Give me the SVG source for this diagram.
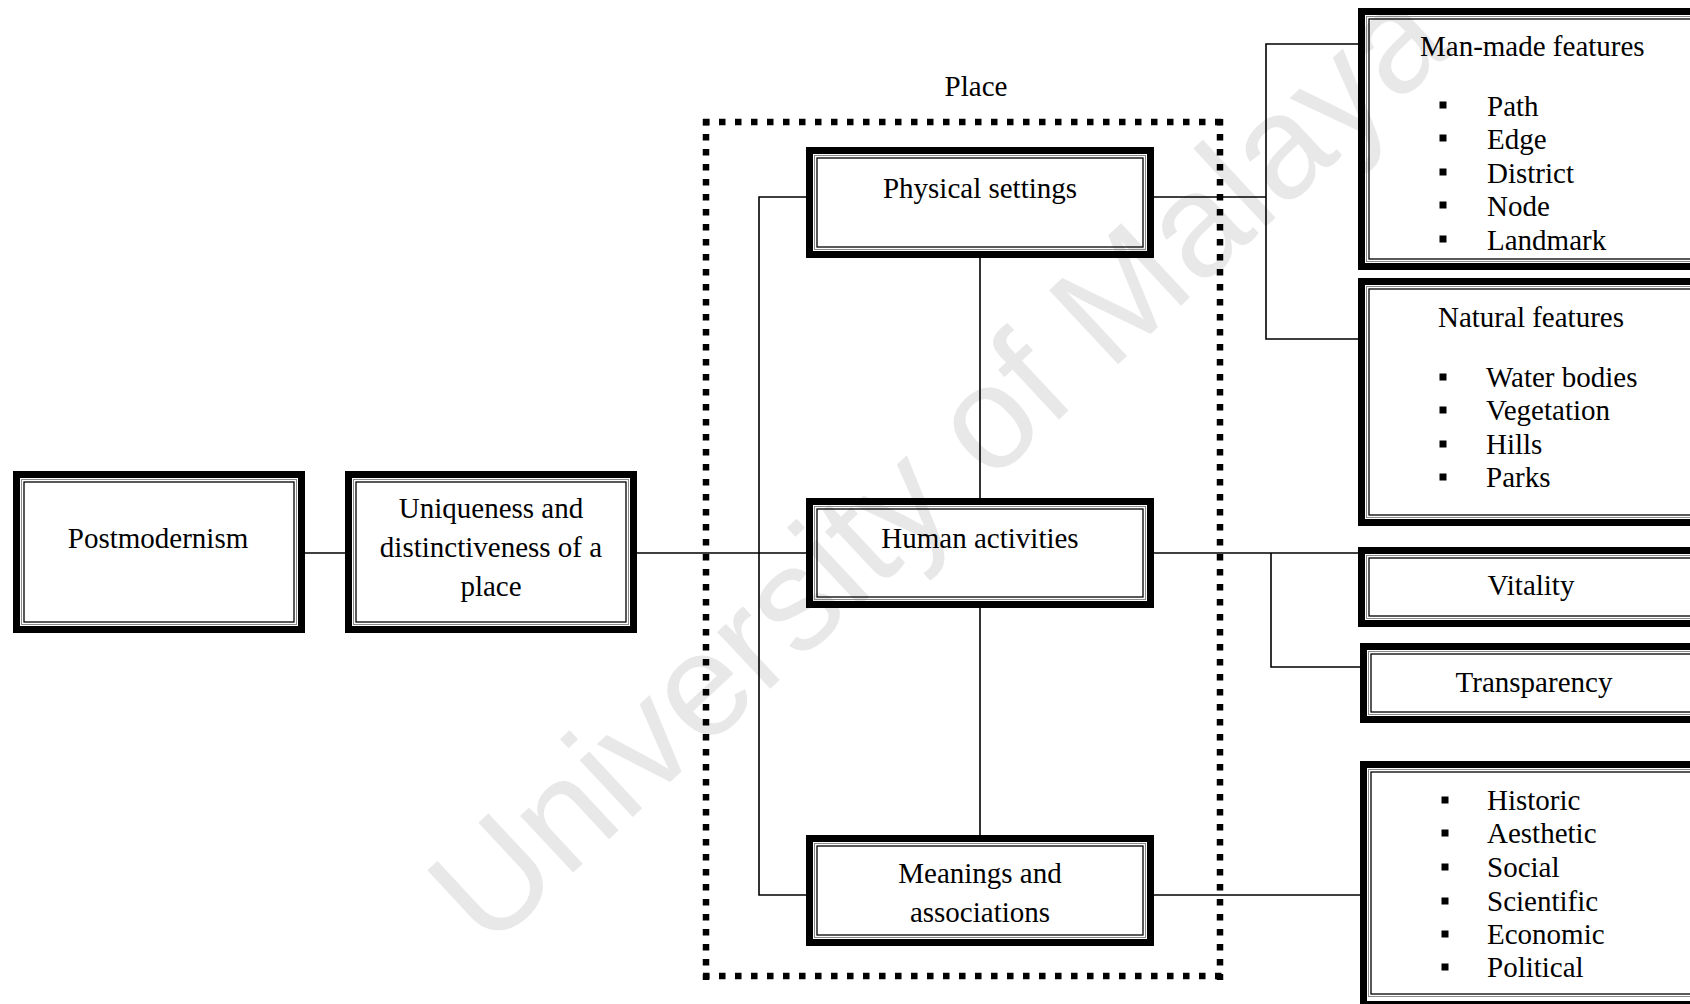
<svg xmlns="http://www.w3.org/2000/svg" width="1690" height="1004" viewBox="0 0 1690 1004">
<style>
  .wm { font-family: "Liberation Sans", Arial, sans-serif; font-size: 147px; fill: #e8e8e8; }
  .o { fill: none; stroke: #000; stroke-width: 7; }
  .m { fill: none; stroke: #8a8a8a; stroke-width: 1; }
  .i { fill: none; stroke: #000; stroke-width: 1.3; }
  .t { font-family: "Liberation Serif", "Times New Roman", serif; font-size: 29px; fill: #000; }
  .c { text-anchor: middle; }
  .ln { fill: none; stroke: #000; stroke-width: 1.6; }
  .dh { fill: none; stroke: #000; stroke-width: 6.5; stroke-dasharray: 6.5 9.5; }
  .dv { fill: none; stroke: #000; stroke-width: 6.5; stroke-dasharray: 6.5 8.5; }
  .b { fill: #000; }
</style>
<rect width="1690" height="1004" fill="#fff"/>
<text class="wm" x="488" y="952" transform="rotate(-43 488 952)">University of Malaya</text>

<g id="place-frame">
  <line class="dh" x1="703" y1="122" x2="1224" y2="122"/>
  <line class="dh" x1="703" y1="976" x2="1224" y2="976"/>
  <line class="dv" x1="706" y1="119" x2="706" y2="980"/>
  <line class="dv" x1="1220" y1="119" x2="1220" y2="980"/>
  <text class="t c" x="976" y="96">Place</text>
</g>

<g id="connectors">
  <line class="ln" x1="305" y1="553" x2="345" y2="553"/>
  <line class="ln" x1="637" y1="553" x2="806" y2="553"/>
  <polyline class="ln" points="806,197 759,197 759,895 806,895"/>
  <line class="ln" x1="980" y1="258" x2="980" y2="498"/>
  <line class="ln" x1="980" y1="608" x2="980" y2="835"/>
  <line class="ln" x1="1154" y1="197" x2="1266" y2="197"/>
  <polyline class="ln" points="1358,44 1266,44 1266,339 1358,339"/>
  <line class="ln" x1="1154" y1="553" x2="1358" y2="553"/>
  <polyline class="ln" points="1271,553 1271,667 1360,667"/>
  <line class="ln" x1="1154" y1="895" x2="1360" y2="895"/>
</g>

<g id="postmodernism">
  <rect class="o" x="16.5" y="474.5" width="285" height="155"/>
  <rect class="m" x="21.5" y="479.5" width="275" height="145"/>
  <rect class="i" x="24" y="482" width="270" height="140"/>
  <text class="t c" x="158" y="548">Postmodernism</text>
</g>

<g id="uniqueness">
  <rect class="o" x="348.5" y="474.5" width="285" height="155"/>
  <rect class="m" x="353.5" y="479.5" width="275" height="145"/>
  <rect class="i" x="356" y="482" width="270" height="140"/>
  <text class="t c" x="491" y="518">Uniqueness and</text>
  <text class="t c" x="491" y="557">distinctiveness of a</text>
  <text class="t c" x="491" y="596">place</text>
</g>

<g id="physical-settings">
  <rect class="o" x="809.5" y="150.5" width="341" height="104"/>
  <rect class="m" x="814.5" y="155.5" width="331" height="94"/>
  <rect class="i" x="817" y="158" width="326" height="89"/>
  <text class="t c" x="980" y="198">Physical settings</text>
</g>

<g id="human-activities">
  <rect class="o" x="809.5" y="501.5" width="341" height="103"/>
  <rect class="m" x="814.5" y="506.5" width="331" height="93"/>
  <rect class="i" x="817" y="509" width="326" height="88"/>
  <text class="t c" x="980" y="548">Human activities</text>
</g>

<g id="meanings">
  <rect class="o" x="809.5" y="838.5" width="341" height="104"/>
  <rect class="m" x="814.5" y="843.5" width="331" height="94"/>
  <rect class="i" x="817" y="846" width="326" height="89"/>
  <text class="t c" x="980" y="883">Meanings and</text>
  <text class="t c" x="980" y="922">associations</text>
</g>

<g id="man-made">
  <rect class="o" x="1361.5" y="11.5" width="400" height="255"/>
  <rect class="m" x="1366.5" y="16.5" width="400" height="245"/>
  <rect class="i" x="1369" y="19" width="400" height="240"/>
  <text class="t" x="1420" y="56">Man-made features</text>
  <rect class="b" x="1439.5" y="101.5" width="7" height="7"/>
  <rect class="b" x="1439.5" y="134.5" width="7" height="7"/>
  <rect class="b" x="1439.5" y="168.5" width="7" height="7"/>
  <rect class="b" x="1439.5" y="201.5" width="7" height="7"/>
  <rect class="b" x="1439.5" y="235.5" width="7" height="7"/>
  <text class="t" x="1487" y="116">Path</text>
  <text class="t" x="1487" y="149">Edge</text>
  <text class="t" x="1487" y="183">District</text>
  <text class="t" x="1487" y="216">Node</text>
  <text class="t" x="1487" y="250">Landmark</text>
</g>

<g id="natural">
  <rect class="o" x="1361.5" y="281.5" width="400" height="241"/>
  <rect class="m" x="1366.5" y="286.5" width="400" height="231"/>
  <rect class="i" x="1369" y="289" width="400" height="226"/>
  <text class="t" x="1438" y="327">Natural features</text>
  <rect class="b" x="1439.5" y="373.5" width="7" height="7"/>
  <rect class="b" x="1439.5" y="406.5" width="7" height="7"/>
  <rect class="b" x="1439.5" y="440.5" width="7" height="7"/>
  <rect class="b" x="1439.5" y="473.5" width="7" height="7"/>
  <text class="t" x="1486" y="387">Water bodies</text>
  <text class="t" x="1486" y="420">Vegetation</text>
  <text class="t" x="1486" y="454">Hills</text>
  <text class="t" x="1486" y="487">Parks</text>
</g>

<g id="vitality">
  <rect class="o" x="1361.5" y="550.5" width="400" height="73"/>
  <rect class="m" x="1366.5" y="555.5" width="400" height="63"/>
  <rect class="i" x="1369" y="558" width="400" height="58"/>
  <text class="t c" x="1531" y="595">Vitality</text>
</g>

<g id="transparency">
  <rect class="o" x="1363.5" y="646.5" width="400" height="73"/>
  <rect class="m" x="1368.5" y="651.5" width="400" height="63"/>
  <rect class="i" x="1371" y="654" width="400" height="58"/>
  <text class="t c" x="1534" y="692">Transparency</text>
</g>

<g id="values">
  <rect class="o" x="1363.5" y="764.5" width="400" height="240"/>
  <rect class="m" x="1368.5" y="769.5" width="400" height="227"/>
  <rect class="i" x="1371" y="772" width="400" height="222"/>
  <rect class="b" x="1441.5" y="796.5" width="7" height="7"/>
  <rect class="b" x="1441.5" y="829.5" width="7" height="7"/>
  <rect class="b" x="1441.5" y="863.5" width="7" height="7"/>
  <rect class="b" x="1441.5" y="897.5" width="7" height="7"/>
  <rect class="b" x="1441.5" y="930.5" width="7" height="7"/>
  <rect class="b" x="1441.5" y="963.5" width="7" height="7"/>
  <text class="t" x="1487" y="810">Historic</text>
  <text class="t" x="1487" y="843">Aesthetic</text>
  <text class="t" x="1487" y="877">Social</text>
  <text class="t" x="1487" y="911">Scientific</text>
  <text class="t" x="1487" y="944">Economic</text>
  <text class="t" x="1487" y="977">Political</text>
</g>
</svg>
